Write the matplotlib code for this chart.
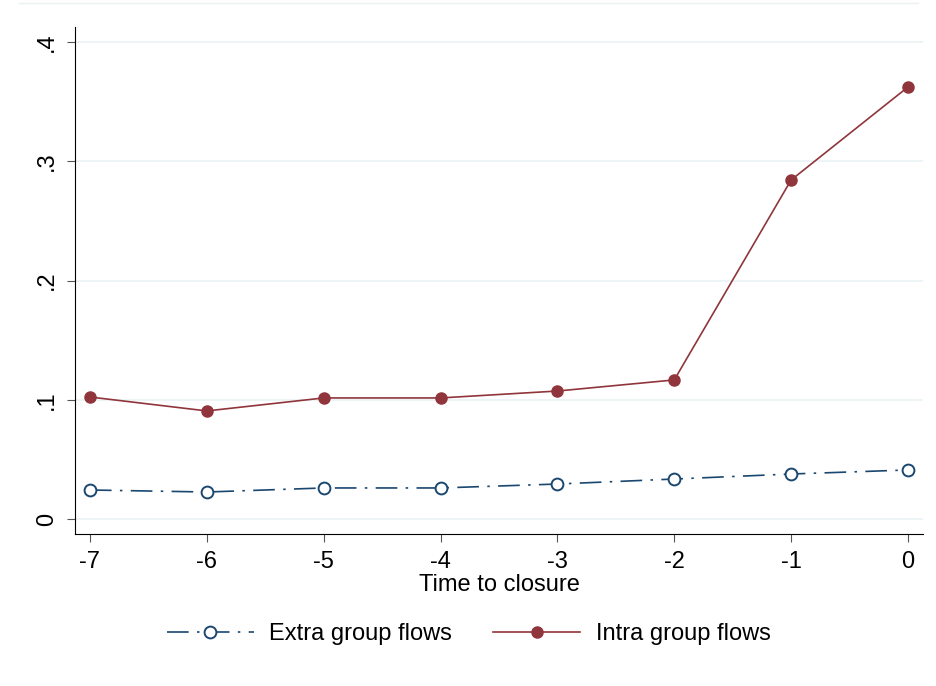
import matplotlib
matplotlib.use("Agg")
import matplotlib.pyplot as plt
from matplotlib.lines import Line2D

plt.rcParams['font.family'] = ['Liberation Sans', 'DejaVu Sans']
plt.rcParams['axes.unicode_minus'] = False

# Data
time = [-7, -6, -5, -4, -3, -2, -1, 0]
extra = [0.0243, 0.0226, 0.0260, 0.0260, 0.0293, 0.0335, 0.0377, 0.0411]
intra = [0.1023, 0.0906, 0.1015, 0.1015, 0.1073, 0.1166, 0.2843, 0.3623]

yticks = [0, 0.1, 0.2, 0.3, 0.4]
ylabels = ['0', '.1', '.2', '.3', '.4']

blue = '#1a476f'
red = '#90353b'

fig = plt.figure(figsize=(9.37, 6.86), dpi=100)
ax = fig.add_axes([0.080, 0.2216, 0.905, 0.739])

ax.plot(time, extra, color=blue, lw=1.2, ls=(0, (13, 5, 1.5, 5)),
        marker='o', mfc='white', mec=blue, mew=1.4, ms=8.5,
        label='Extra group flows', zorder=3)
ax.plot(time, intra, color=red, lw=1.2, marker='o', mfc=red, mec=red,
        ms=8, label='Intra group flows', zorder=3)

ax.set_xlim(-7.128, 0.128)
ax.set_ylim(-0.0126, 0.4126)
ax.set_xticks(time)
ax.set_yticks(yticks)
ax.set_yticklabels(ylabels, rotation=90, va='center')

ax.grid(axis='y', color='#eaf2f3', lw=1.2)
ax.set_axisbelow(True)
for s in ['top', 'right']:
    ax.spines[s].set_visible(False)
for s in ['left', 'bottom']:
    ax.spines[s].set_color('#000000')
    ax.spines[s].set_linewidth(0.8)
ax.tick_params(axis='both', direction='out', length=6, width=0.8,
               color='#555555', labelsize=17)
ax.tick_params(axis='x', pad=6)
ax.tick_params(axis='y', pad=6)

ax.set_xlabel('Time to closure', fontsize=17, labelpad=1)

# thin light line at the top of the figure
fig.add_artist(Line2D([0.02, 0.98], [0.996, 0.996], color='#eaf2f3', lw=1))

handles, labels = ax.get_legend_handles_labels()
fig.legend(handles, labels, loc='center', bbox_to_anchor=(0.5, 0.0758),
           ncol=2, frameon=False, fontsize=17, handlelength=3.7,
           handletextpad=0.64, columnspacing=1.74)

fig.savefig('out.png', dpi=100)
